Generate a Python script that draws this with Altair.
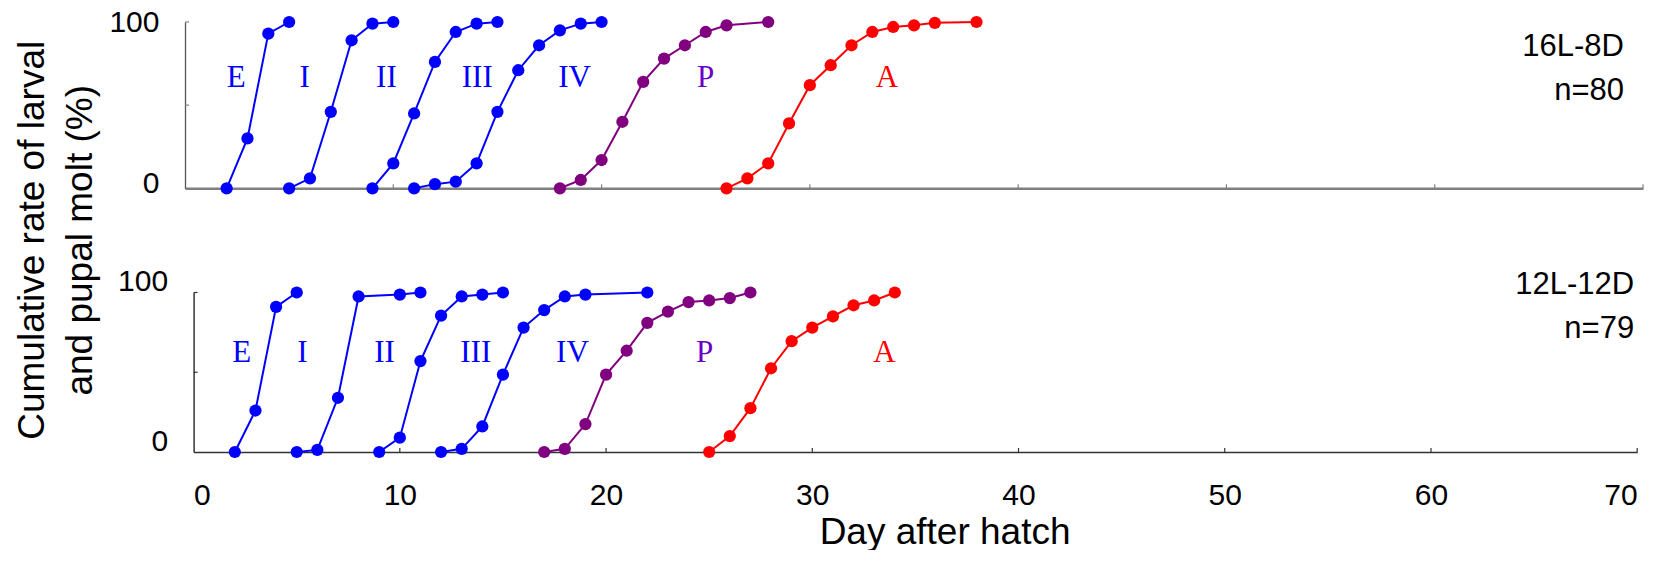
import altair as alt
import pandas as pd

# ---------------- 16L-8D, n=80 ----------------
top_E_day = [2, 3, 4, 5]
top_E_pct = [0, 30, 93, 100]
top_I_day = [5, 6, 7, 8, 9, 10]
top_I_pct = [0, 6, 46, 89, 99, 100]
top_II_day = [9, 10, 11, 12, 13, 14, 15]
top_II_pct = [0, 15, 45, 76, 94, 99, 100]
top_III_day = [11, 12, 13, 14, 15, 16, 17, 18, 19, 20]
top_III_pct = [0, 2.5, 4, 15, 46, 71, 86, 95, 99, 100]
top_P_day = [18, 19, 20, 21, 22, 23, 24, 25, 26, 28]
top_P_pct = [0, 5, 17, 40, 64, 78, 86, 94, 98, 100]
top_A_day = [26, 27, 28, 29, 30, 31, 32, 33, 34, 35, 36, 38]
top_A_pct = [0, 6, 15, 39, 62, 74, 86, 94, 97, 98, 99.5, 100]

# ---------------- 12L-12D, n=79 ----------------
bot_E_day = [2, 3, 4, 5]
bot_E_pct = [0, 26, 91, 100]
bot_I_day = [5, 6, 7, 8, 10, 11]
bot_I_pct = [0, 1.3, 34, 97.5, 98.7, 100]
bot_II_day = [9, 10, 11, 12, 13, 14, 15]
bot_II_pct = [0, 9, 57, 85.5, 97.5, 98.7, 100]
bot_III_day = [12, 13, 14, 15, 16, 17, 18, 19, 22]
bot_III_pct = [0, 2, 16, 48.5, 78, 89, 97.5, 98.7, 100]
bot_P_day = [17, 18, 19, 20, 21, 22, 23, 24, 25, 26, 27]
bot_P_pct = [0, 2, 17.5, 48.5, 63.5, 81, 88, 94, 95, 96.5, 100]
bot_A_day = [25, 26, 27, 28, 29, 30, 31, 32, 33, 34]
bot_A_pct = [0, 10, 27.5, 52.5, 69.5, 78, 85, 92, 95, 100]

# stage labels (E = egg hatch ... A = adult emergence)
stage_names = ["E", "I", "II", "III", "IV", "P", "A"]
stage_colors = ["#0000ff", "#0000ff", "#0000ff", "#0000ff", "#0000ff", "#6a00c8", "#ff0000"]
top_label_day = [2.46, 5.74, 9.67, 14.03, 18.7, 25.0, 33.7]
top_label_pct = [61, 61, 61, 61, 61, 61, 61]
bot_label_day = [2.33, 5.27, 9.26, 13.68, 18.37, 24.78, 33.5]
bot_label_pct = [56.5, 56.5, 56.5, 56.5, 56.5, 56.5, 56.5]

BLUE, PURPLE, RED = "#0000ff", "#800080", "#ff0000"
x_tick_values = [0, 10, 20, 30, 40, 50, 60, 70]
inner_x_ticks = [10, 20, 30, 40, 50, 60, 70]
inner_y_ticks = [50, 100]

SANS = "Liberation Sans"
SERIF = "Liberation Serif"


def curves_frame(spec):
    rows = []
    for name, days, pcts, color in spec:
        for d, p in zip(days, pcts):
            rows.append({"curve": name, "day": d, "pct": p, "color": color})
    return pd.DataFrame(rows)


top_df = curves_frame([
    ("E", top_E_day, top_E_pct, BLUE),
    ("I", top_I_day, top_I_pct, BLUE),
    ("II", top_II_day, top_II_pct, BLUE),
    ("III", top_III_day, top_III_pct, BLUE),
    ("P", top_P_day, top_P_pct, PURPLE),
    ("A", top_A_day, top_A_pct, RED),
])
bot_df = curves_frame([
    ("E", bot_E_day, bot_E_pct, BLUE),
    ("I", bot_I_day, bot_I_pct, BLUE),
    ("II", bot_II_day, bot_II_pct, BLUE),
    ("III", bot_III_day, bot_III_pct, BLUE),
    ("P", bot_P_day, bot_P_pct, PURPLE),
    ("A", bot_A_day, bot_A_pct, RED),
])
top_labels = pd.DataFrame({"day": top_label_day, "pct": top_label_pct,
                           "label": stage_names, "color": stage_colors})
bot_labels = pd.DataFrame({"day": bot_label_day, "pct": bot_label_pct,
                           "label": stage_names, "color": stage_colors})


def panel(df, labels, w, h, x_scale, x_axis, y_axis, y_axis_x, cond_text, cond_x, cond_y,
          tick_color, extra=None):
    x = alt.X("day:Q", scale=x_scale, axis=x_axis)
    y = alt.Y("pct:Q", scale=alt.Scale(domain=[0, 100], nice=False), axis=y_axis)
    col = alt.Color("color:N", scale=None, legend=None)

    lines = alt.Chart(df).mark_line(strokeWidth=2).encode(x=x, y=y, detail="curve:N", color=col)
    pts = alt.Chart(df).mark_circle(size=150, opacity=1).encode(x=x, y=y, color=col)
    stage = alt.Chart(labels).mark_text(
        font=SERIF, fontSize=31, align="center", baseline="alphabetic"
    ).encode(x=x, y=y, text="label:N", color=col)

    xt = alt.Chart(pd.DataFrame({"day": inner_x_ticks})).mark_rule(
        color=tick_color, strokeWidth=1.2
    ).encode(x=x, y=alt.value(h), y2=alt.value(h - 4))
    yt = alt.Chart(pd.DataFrame({"pct": inner_y_ticks})).mark_rule(
        color=tick_color, strokeWidth=1.2
    ).encode(y=y, x=alt.value(y_axis_x), x2=alt.value(y_axis_x + 4))

    cond = alt.Chart(pd.DataFrame({"k": [0]})).mark_text(
        font=SANS, fontSize=31, align="right", baseline="middle", lineHeight=44, color="black"
    ).encode(x=alt.value(cond_x), y=alt.value(cond_y), text=alt.value(cond_text))

    layers = [xt, yt, lines, pts, stage, cond]
    if extra is not None:
        layers.append(extra)
    return alt.layer(*layers).properties(width=w, height=h)


# ---- top panel ----
TOP_W, TOP_H = 1458, 166.3
top_x_axis = alt.Axis(values=x_tick_values, labels=False, ticks=False, grid=False, title=None,
                      domainColor="#808080", domainWidth=2.4)
top_y_axis = alt.Axis(values=[0, 100], ticks=False, tickSize=0, grid=False, title=None,
                      domainColor="#555555", domainWidth=1.3,
                      labelFont=SANS, labelFontSize=30, labelColor="black",
                      labelPadding=26,
                      labelOffset={"condition": {"test": "datum.value == 0", "value": -5},
                                   "value": 0})

y_title = alt.Chart(pd.DataFrame({"k": [0]})).mark_text(
    font=SANS, fontSize=37, angle=270, align="center", baseline="middle",
    lineHeight=48, color="black"
).encode(x=alt.value(-152.4), y=alt.value(218.3),
         text=alt.value(["Cumulative rate of larval", "and pupal molt (%)"]))

top = panel(top_df, top_labels, TOP_W, TOP_H,
            alt.Scale(domain=[0, 70], nice=False), top_x_axis, top_y_axis, 0,
            ["16L-8D", "n=80"], TOP_W - 19, 25.3, "#808080", extra=y_title)

# ---- bottom panel (plot area starts a little further right) ----
BOT_W, BOT_H = 1452.2, 159.5
BOT_SHIFT = 8.6
bot_x_axis = alt.Axis(values=x_tick_values, ticks=False, tickSize=0, grid=False,
                      domainColor="#333333", domainWidth=1.5,
                      labelFont=SANS, labelFontSize=30, labelColor="black", labelPadding=28,
                      title="Day after hatch", titleFont=SANS, titleFontSize=37,
                      titleFontWeight="normal", titleColor="black",
                      titleX=759.6, titleY=91, titleAlign="center", titleBaseline="alphabetic")
bot_y_axis = alt.Axis(values=[0, 100], ticks=False, tickSize=0, grid=False, title=None,
                      domainColor="#333333", domainWidth=1.5, offset=-BOT_SHIFT,
                      labelFont=SANS, labelFontSize=30, labelColor="black",
                      labelPadding=26, labelOffset=-11)

bottom = panel(bot_df, bot_labels, BOT_W, BOT_H,
               alt.Scale(domain=[0, 70], nice=False, range=[BOT_SHIFT, BOT_W]),
               bot_x_axis, bot_y_axis, BOT_SHIFT,
               ["12L-12D", "n=79"], BOT_W - 3, -8, "#333333")

chart = alt.vconcat(top, bottom, spacing=103.5, bounds="flush").configure_view(
    stroke=None
).properties(
    background="white",
    padding={"left": 13, "top": 7, "right": 0, "bottom": 0},
)

chart.save("out.html", embed_options={"renderer": "svg", "actions": False})
